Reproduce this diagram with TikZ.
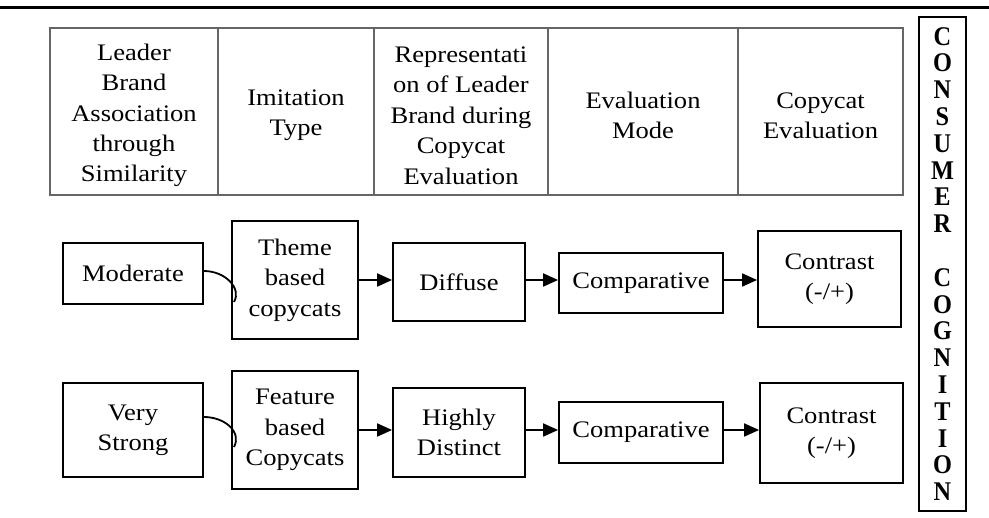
\documentclass[tikz,border=0pt]{standalone}
\usepackage{fontspec}
\setmainfont{Liberation Serif}[FakeStretch=1.12]
\newfontfamily\stackfont{Liberation Serif}[FakeStretch=0.9]
\usetikzlibrary{arrows.meta,calc}

\begin{document}
\begin{tikzpicture}[x=1pt,y=-1pt,
  txt/.style={font=\fontsize{23.7}{30.4}\selectfont, align=center, inner sep=0pt},
  cell/.style={draw=black!60, line width=1.2pt, minimum height=167pt, inner sep=0pt},
  box/.style={draw, line width=1.8pt, txt},
  link/.style={line width=1.8pt, -{Triangle[length=15pt,width=13pt]}},
  hook/.style={line width=1.8pt},
]
\useasboundingbox (0,0) rectangle (989,518);

% top rule
\draw[line width=3pt] (0,7.5) -- (989,7.5);

% header table
\node[cell, minimum width=168pt] (c1) at (134,111.5) {};
\node[cell, minimum width=156pt] (c2) at (296,111.5) {};
\node[cell, minimum width=174pt] (c3) at (461,111.5) {};
\node[cell, minimum width=190pt] (c4) at (643,111.5) {};
\node[cell, minimum width=165pt] (c5) at (820.5,111.5) {};
\node[txt] (t1) at ($(c1)+(0,4)$) {Leader\\Brand\\Association\\through\\Similarity};
\node[txt] (t2) at ($(c2)+(0,4)$) {Imitation\\Type};
\node[txt] (t3) at ($(c3)+(0,4)$) {Representati\\on of Leader\\Brand during\\Copycat\\Evaluation};
\node[txt] (t4) at ($(c4)+(0,4)$) {Evaluation\\Mode};
\node[txt] (t5) at ($(c5)+(0,4)$) {Copycat\\Evaluation};

% side bar
\node[draw, line width=1.8pt, minimum width=47pt, minimum height=494pt, inner sep=0pt,
      align=center, font=\stackfont\bfseries\fontsize{27}{26.8}\selectfont] (cog) at (942.5,264)
  {C\\O\\N\\S\\U\\M\\E\\R\\[26.8pt]C\\O\\G\\N\\I\\T\\I\\O\\N};

% first row
\node[box, minimum width=140pt, minimum height=61pt] (mod) at (133,273.5) {Moderate};
\node[box, minimum width=126pt, minimum height=118pt] (theme) at (295,280) {Theme\\based\\copycats};
\node[box, minimum width=132pt, minimum height=78pt] (diffuse) at (459,282) {Diffuse};
\node[box, minimum width=164pt, minimum height=60pt] (comp1) at (641,283) {Comparative};
\node[box, minimum width=143pt, minimum height=96pt] (contr1) at (829.5,279) {Contrast\\(-/+)};

% second row
\node[box, minimum width=140pt, minimum height=94pt] (vs) at (133,430) {Very\\Strong};
\node[box, minimum width=126pt, minimum height=118pt] (feat) at (295,430) {Feature\\based\\Copycats};
\node[box, minimum width=132pt, minimum height=89pt] (hd) at (459,432.5) {Highly\\Distinct};
\node[box, minimum width=164pt, minimum height=61pt] (comp2) at (641,432.5) {Comparative};
\node[box, minimum width=143pt, minimum height=100pt] (contr2) at (831.5,433) {Contrast\\(-/+)};

% arrows, first row
\draw[link] (theme.east) -- (theme.east -| diffuse.west);
\draw[link] (diffuse.east |- theme.east) -- (theme.east -| comp1.west);
\draw[link] (comp1.east |- theme.east) -- (theme.east -| contr1.west);

% arrows, second row
\draw[link] (feat.east) -- (feat.east -| hd.west);
\draw[link] (hd.east |- feat.east) -- (feat.east -| comp2.west);
\draw[link] (comp2.east |- feat.east) -- (feat.east -| contr2.west);

% hooked links into the imitation boxes
\coordinate (h1) at (234,302);
\coordinate (h2) at (234,447);
\draw[hook] ($(mod.east)+(0,-2.5)$) .. controls +(21,0) and +(8,-14) .. (h1);
\draw[hook] ($(vs.east)+(0,-13)$) .. controls +(21,0) and +(8,-15) .. (h2);
\end{tikzpicture}
\end{document}
